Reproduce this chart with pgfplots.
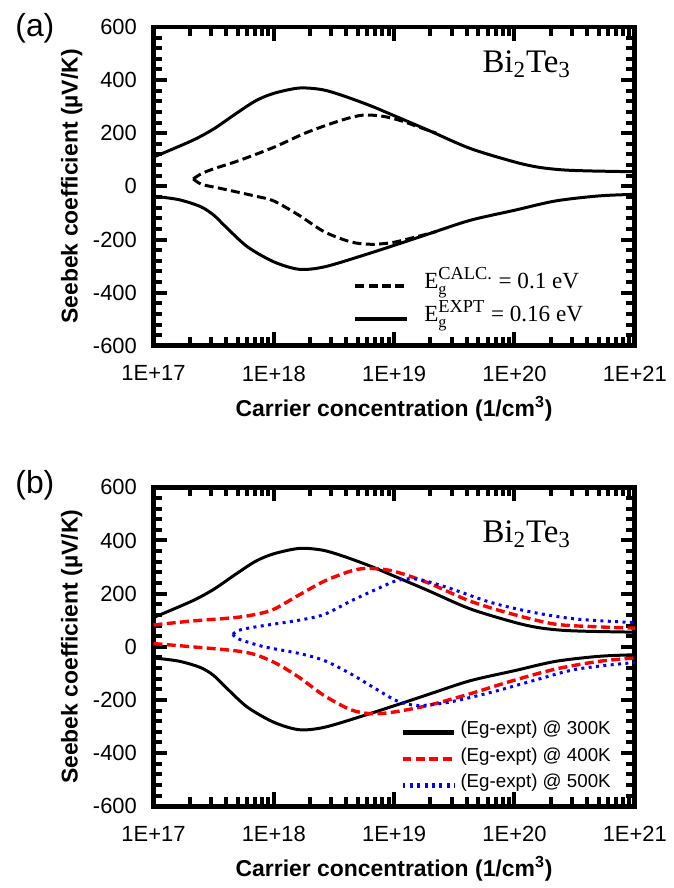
\documentclass[border=0pt]{standalone}
\usepackage{amsmath}
\usepackage{fontspec}
\setmainfont{Liberation Sans}
\newfontfamily\timesfont{Liberation Serif}
\usepackage{pgfplots}
\pgfplotsset{compat=1.18}

\pgfplotsset{
  seebek/.style={
    width=241.5pt, height=160pt, scale only axis,
    xmin=17, xmax=21, ymin=-600, ymax=600,
    xtick={17,18,19,20,21},
    xticklabels={1E+17,1E+18,1E+19,1E+20,1E+21},
    minor xtick={17.301,17.477,17.602,17.699,17.778,17.845,17.903,17.954,
                 18.301,18.477,18.602,18.699,18.778,18.845,18.903,18.954,
                 19.301,19.477,19.602,19.699,19.778,19.845,19.903,19.954,
                 20.301,20.477,20.602,20.699,20.778,20.845,20.903,20.954},
    ytick={-600,-400,-200,0,200,400,600},
    yticklabels={-600,-400,-200,0,200,400,600},
    minor y tick num=4,
    major tick length=7pt, minor tick length=4.5pt,
    every tick/.style={black, line width=2pt},
    axis line style={black, line width=2.4pt},
    tick label style={font=\fontsize{11}{13}\selectfont},
    xticklabel style={yshift=-6.5pt},
    yticklabel style={xshift=-4.8pt},
    label style={font=\bfseries\fontsize{11.5}{13}\selectfont},
    xlabel={Carrier concentration (1/cm\textsuperscript{3})},
    ylabel={Seebek coefficient (µV/K)},
    x label style={at={(axis description cs:0.5,-0.197)}, anchor=center},
    y label style={at={(axis description cs:-0.17,0.5)}, anchor=center},
    legend image code/.code={\draw[##1] (0pt,0pt) -- (26pt,0pt);},
  }
}

\begin{document}
\begin{tikzpicture}
\path (0pt,0pt) rectangle (335pt,-444pt);
\node[font=\fontsize{16}{18}\selectfont] at (17.5pt,-14pt) {(a)};
\node[font=\fontsize{16}{18}\selectfont] at (17.5pt,-243.5pt) {(b)};

% ---------------- panel (a)
\begin{axis}[seebek, at={(77pt,-173.5pt)}, anchor=south west,
  legend style={at={(axis description cs:0.414,0.136)}, anchor=west,
    draw=none, fill=none, inner sep=0pt, row sep=0pt, column sep=7.5pt,
    font=\timesfont\fontsize{11.6}{14}\selectfont,
    cells={anchor=west},
    nodes={inner sep=0pt, text height=9.5pt, text depth=7pt}}]
% Eg EXPT (solid)
\addplot[black, line width=1.5pt, smooth, forget plot] coordinates {
(17.00,110) (17.32,172) (17.50,216) (17.68,272) (17.85,322) (18.00,350)
(18.21,370) (18.40,364) (18.57,342) (18.80,304) (19.00,266) (19.28,212)
(19.63,143) (20.00,92) (20.20,72) (20.40,62) (20.63,58) (21.00,55)};
\addplot[black, line width=1.5pt, smooth, forget plot] coordinates {
(17.00,-37) (17.21,-50) (17.39,-76) (17.50,-108) (17.60,-152) (17.78,-227)
(18.00,-284) (18.21,-312) (18.42,-303) (18.74,-260) (19.00,-222) (19.28,-180)
(19.63,-128) (20.00,-90) (20.34,-55) (20.70,-36) (21.00,-30)};
% Eg CALC (dashed)
\addplot[black, line width=1.5pt, dash pattern=on 4.5pt off 2.2pt, smooth, forget plot] coordinates {
(17.33,28) (17.40,48) (17.50,66) (17.71,97) (18.00,147) (18.28,204)
(18.57,250) (18.74,268) (18.90,264) (19.05,248) (19.20,224) (19.35,200)};
\addplot[black, line width=1.5pt, dash pattern=on 4.5pt off 2.2pt, smooth, forget plot] coordinates {
(17.33,28) (17.38,12) (17.43,4) (17.57,-9) (17.85,-37) (18.00,-55)
(18.21,-109) (18.42,-171) (18.64,-209) (18.81,-218) (18.99,-211) (19.20,-188) (19.35,-170)};
\addlegendimage{black, line width=1.8pt, dash pattern=on 4.5pt off 2.2pt}
\addlegendentry{E${}_{\text{g}}^{\text{\fontsize{9.2}{11}\selectfont CALC.}}$ = 0.1 eV}
\addlegendimage{black, line width=2.2pt}
\addlegendentry{E${}_{\text{g}}^{\text{\fontsize{9.2}{11}\selectfont EXPT}}$ = 0.16 eV}
\node[anchor=base west, font=\timesfont\fontsize{16.5}{18}\selectfont]
  at (axis description cs:0.669,0.857) {Bi\textsubscript{2}Te\textsubscript{3}};
\end{axis}

% ---------------- panel (b)
\begin{axis}[seebek, at={(77pt,-404.5pt)}, anchor=south west,
  legend style={at={(axis description cs:0.512,0.148)}, anchor=west,
    draw=none, fill=none, inner sep=0pt, row sep=0pt, column sep=2pt,
    font=\fontsize{9.4}{11}\selectfont,
    cells={anchor=west},
    nodes={inner sep=0pt, text height=7.75pt, text depth=5.5pt}}]
% 300K
\addplot[black, line width=1.5pt, smooth, forget plot] coordinates {
(17.00,110) (17.32,172) (17.50,216) (17.68,272) (17.85,322) (18.00,350)
(18.21,370) (18.40,364) (18.57,342) (18.80,304) (19.00,266) (19.28,212)
(19.63,143) (20.00,92) (20.20,72) (20.40,62) (20.63,58) (21.00,55)};
\addplot[black, line width=1.5pt, smooth, forget plot] coordinates {
(17.00,-42) (17.21,-54) (17.39,-78) (17.50,-108) (17.60,-152) (17.78,-227)
(18.00,-284) (18.21,-312) (18.42,-303) (18.74,-260) (19.00,-222) (19.28,-180)
(19.63,-128) (20.00,-90) (20.34,-55) (20.70,-36) (21.00,-30)};
% 400K
\addplot[red, line width=1.7pt, dash pattern=on 4.5pt off 2.2pt, smooth, forget plot] coordinates {
(17.00,82) (17.32,97) (17.68,110) (17.85,122) (18.00,141) (18.21,195)
(18.42,247) (18.64,285) (18.78,295) (18.99,285) (19.28,241) (19.63,172)
(19.99,122) (20.34,85) (20.70,75) (21.00,70)};
\addplot[red, line width=1.7pt, dash pattern=on 4.5pt off 2.2pt, smooth, forget plot] coordinates {
(17.00,12) (17.32,0) (17.68,-15) (17.85,-30) (18.03,-65) (18.21,-115)
(18.42,-184) (18.64,-237) (18.81,-252) (18.99,-246) (19.28,-221) (19.63,-177)
(19.99,-127) (20.34,-84) (20.70,-55) (21.00,-42)};
% 500K
\addplot[blue, line width=1.5pt, dash pattern=on 1.5pt off 2.2pt, smooth, forget plot] coordinates {
(17.66,47) (17.71,62) (17.85,75) (18.21,100) (18.42,122) (18.64,172)
(18.85,216) (19.03,250) (19.20,254) (19.45,222) (19.81,166) (20.16,129)
(20.52,104) (21.00,91)};
\addplot[blue, line width=1.5pt, dash pattern=on 1.5pt off 2.2pt, smooth, forget plot] coordinates {
(17.66,47) (17.71,29) (17.92,0) (18.21,-25) (18.42,-52) (18.64,-102)
(18.85,-159) (19.03,-205) (19.20,-221) (19.45,-209) (19.81,-171) (20.16,-127)
(20.52,-84) (21.00,-59)};
\addlegendimage{black, line width=2.2pt}
\addlegendentry{(Eg-expt) @ 300K}
\addlegendimage{red, line width=2.2pt, dash pattern=on 4.5pt off 2.2pt}
\addlegendentry{(Eg-expt) @ 400K}
\addlegendimage{blue, line width=2.2pt, dash pattern=on 1.5pt off 2.2pt}
\addlegendentry{(Eg-expt) @ 500K}
\node[anchor=base west, font=\timesfont\fontsize{16.5}{18}\selectfont]
  at (axis description cs:0.669,0.826) {Bi\textsubscript{2}Te\textsubscript{3}};
\end{axis}
\end{tikzpicture}
\end{document}
